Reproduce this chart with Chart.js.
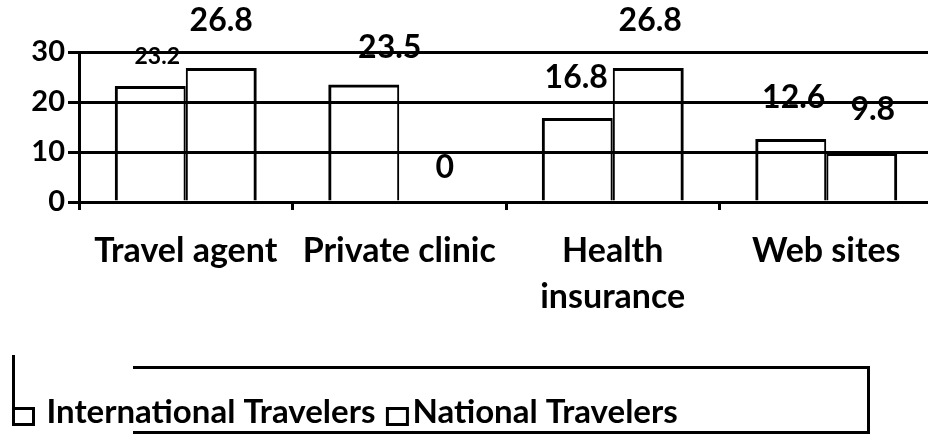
<!DOCTYPE html>
<html>
<head>
<meta charset="utf-8">
<script src="https://cdn.jsdelivr.net/npm/chart.js@4/dist/chart.umd.min.js"></script>
<style>
  html, body { margin: 0; padding: 0; background: #fff; overflow: hidden; }
  #wrap { width: 934px; height: 434px; }
</style>
</head>
<body>
<div id="wrap"><canvas id="chart"></canvas></div>
<script>
const categories = [['Travel agent'], ['Private clinic'], ['Health', 'insurance'], ['Web sites']];
const seriesNames = ['International Travelers', 'National Travelers'];
const internationalValues = [23.2, 23.5, 16.8, 12.6];
const nationalValues = [26.8, 0, 26.8, 9.8];
const yTicks = [0, 10, 20, 30];

// label placement tweaks (px), the original labels were hand-placed
const labelNudgeX = [[7, 26, -1, 3], [0, 10, 2, 11]];
const labelNudgeY = [[-29, -37, -40, -41], [-47, -34, -47, -43]];
const labelSize = [[23, 32, 32, 32], [32, 32, 32, 32]];

const FONT = 'Lato, "Open Sans", sans-serif';

const valueLabels = {
  id: 'valueLabels',
  afterDatasetsDraw(chart) {
    const ctx = chart.ctx;
    ctx.save();
    ctx.fillStyle = '#000';
    ctx.textAlign = 'center';
    ctx.textBaseline = 'middle';
    chart.data.datasets.forEach((ds, di) => {
      const meta = chart.getDatasetMeta(di);
      meta.data.forEach((bar, i) => {
        ctx.font = `bold ${labelSize[di][i]}px ${FONT}`;
        ctx.fillText(String(ds.data[i]), bar.x + labelNudgeX[di][i], bar.y + labelNudgeY[di][i]);
      });
    });
    ctx.restore();
  }
};

// the legend with its odd broken frame
const frameLegend = {
  id: 'frameLegend',
  afterDraw(chart) {
    const ctx = chart.ctx;
    ctx.save();
    ctx.strokeStyle = '#000';
    ctx.lineWidth = 3;
    ctx.beginPath();
    ctx.moveTo(133, 367.5);
    ctx.lineTo(868.5, 367.5);
    ctx.lineTo(868.5, 432.5);
    ctx.lineTo(133, 432.5);
    ctx.moveTo(13.5, 355);
    ctx.lineTo(13.5, 424);
    ctx.stroke();

    ctx.font = `bold 33px ${FONT}`;
    ctx.fillStyle = '#000';
    ctx.textBaseline = 'alphabetic';
    ctx.textAlign = 'left';
    let x = 13.5;
    chart.data.datasets.forEach((ds, di) => {
      ctx.lineWidth = 3;
      ctx.strokeRect(x, 408.5, 20, 16);
      const tx = x + (di === 0 ? 33 : 25);
      ctx.fillText(ds.label, tx, 423);
      x = tx + ctx.measureText(ds.label).width + 12;
    });
    ctx.restore();
  }
};

new Chart(document.getElementById('chart'), {
  type: 'bar',
  data: {
    labels: categories,
    datasets: [
      {
        label: seriesNames[0],
        data: internationalValues,
        backgroundColor: 'rgba(255,255,255,0)',
        borderColor: '#000',
        borderWidth: { left: 3, top: 3, right: 2, bottom: 0 },
        borderSkipped: false
      },
      {
        label: seriesNames[1],
        data: nationalValues,
        backgroundColor: 'rgba(255,255,255,0)',
        borderColor: '#000',
        borderWidth: { left: 2, top: 3, right: 3, bottom: 0 },
        borderSkipped: false
      }
    ]
  },
  options: {
    responsive: true,
    maintainAspectRatio: false,
    animation: false,
    layout: { padding: { top: 52, right: 1, left: 0, bottom: 0 } },
    categoryPercentage: 0.665,
    barPercentage: 1,
    plugins: {
      legend: { display: false },
      tooltip: { enabled: false }
    },
    scales: {
      x: {
        afterFit(scale) { scale.height = 232; },
        grid: {
          offset: true,
          drawOnChartArea: false,
          drawTicks: true,
          tickLength: 8,
          color: '#000',
          lineWidth: 3
        },
        border: { display: true, color: '#000', width: 3 },
        ticks: {
          color: '#000',
          padding: 18,
          maxRotation: 0,
          autoSkip: false,
          font: { family: FONT, size: 34, weight: 'bold', lineHeight: 1.35 }
        }
      },
      y: {
        min: 0,
        max: 30,
        afterFit(scale) { scale.width = 79; },
        afterBuildTicks(scale) { scale.ticks = yTicks.map((v) => ({ value: v })); },
        grid: {
          color: '#000',
          lineWidth: 3,
          drawTicks: true,
          tickLength: 11
        },
        border: { display: true, color: '#000', width: 3 },
        ticks: {
          color: '#000',
          padding: 3,
          font: { family: FONT, size: 29, weight: 'bold' }
        }
      }
    }
  },
  plugins: [valueLabels, frameLegend]
});
</script>
</body>
</html>
